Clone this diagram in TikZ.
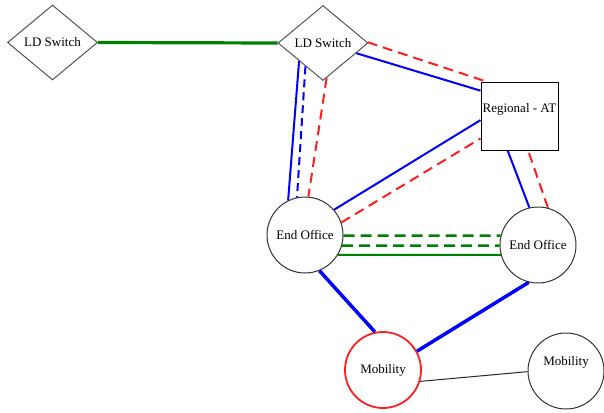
\documentclass[tikz,border=0pt]{standalone}
\usepackage{fontspec}
\setmainfont{Liberation Serif}
\usetikzlibrary{shapes.geometric}

\definecolor{netblue}{RGB}{0,0,255}
\definecolor{netred}{RGB}{255,30,30}
\definecolor{netgreen}{RGB}{0,128,0}
\definecolor{shapegray}{RGB}{85,85,85}

\tikzset{
  lbl/.style={font=\fontsize{13}{15}\selectfont},
  switchnode/.style={diamond, draw=shapegray, line width=1pt, minimum width=90pt,
    minimum height=75pt, inner sep=0pt, lbl},
  office/.style={circle, draw=black!80, line width=1pt, minimum size=76pt, inner sep=0pt, lbl},
  mobilenode/.style={office},
  tandem/.style={rectangle, draw=black, line width=1pt, minimum width=77pt, inner sep=0pt,
    text height=30.5pt, text depth=37.5pt, lbl},
  trunkblue/.style={draw=netblue, line width=2pt},
  heavyblue/.style={draw=netblue, line width=3.5pt},
  dashblue/.style={draw=netblue, line width=2pt, dash pattern=on 8pt off 5pt},
  dashred/.style={draw=netred, line width=2pt, dash pattern=on 10pt off 6pt},
  trunkgreen/.style={draw=netgreen, line width=2pt},
  heavygreen/.style={draw=netgreen, line width=3.2pt},
  dashgreen/.style={draw=netgreen, line width=2.4pt, dash pattern=on 11pt off 6pt},
  thinlink/.style={draw=black!85, line width=1pt},
}

\begin{document}
\begin{tikzpicture}[x=1pt, y=-1pt]
  \useasboundingbox (0,0) rectangle (604,412);

  % switching offices
  \node[switchnode] (ld1) at (52.5,42.5) {LD Switch};
  \node[switchnode] (ld2) at (323,43) {LD Switch};
  \node[tandem] (reg) at (519.5,116) {Regional - AT};
  \node[office] (eo1) at (305,235) {End Office};
  \node[office] (eo2) at (538,245) {End Office};
  \node[mobilenode, draw=netred, line width=1.8pt] (mob1) at (383,370) {Mobility};
  \node[mobilenode, label={[lbl, yshift=9pt]center:Mobility}] (mob2) at (566,371) {};

  % long distance trunk
  \draw[heavygreen] (ld1.east) -- (ld2.west);

  % LD switch to end office
  \draw[trunkblue] (ld2.217) -- (eo1.116);
  \draw[dashblue]  (ld2.233) -- (eo1.102);
  \draw[dashred]   (ld2.276) -- (eo1.85);

  % LD switch to regional tandem
  \draw[trunkblue] (ld2.-17) -- (reg.147);
  \draw[dashred]   (ld2.1)   -- (reg.134);

  % end office to regional tandem
  \draw[trunkblue] (eo1.41) -- (reg.186);
  \draw[dashred]   (eo1.19) -- (reg.210);
  \draw[trunkblue] (eo2.103) -- (reg.251);
  \draw[dashred]   (eo2.75)  -- (reg.284);

  % inter-office trunks
  \draw[dashgreen]  (eo1.-1.5)  -- (eo2.166.3);
  \draw[dashgreen]  (eo1.-16.8) -- (eo2.181.5);
  \draw[trunkgreen] (eo1.-31.8) -- (eo2.195.3);

  % mobility connections
  \draw[heavyblue] (eo1.-68) -- (mob1.102);
  \draw[heavyblue] (eo2.256) -- (mob1.29);
  \draw[thinlink]  (mob1.-17) -- (mob2.181.5);
\end{tikzpicture}
\end{document}
